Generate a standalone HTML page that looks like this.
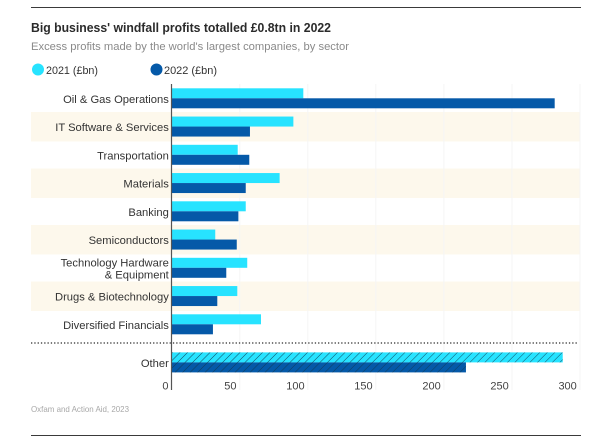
<!DOCTYPE html>
<html lang="en">
<head>
<meta charset="utf-8">
<title>Big business' windfall profits</title>
<style>
html,body{margin:0;padding:0;background:#fff;}
body{width:602px;height:436px;overflow:hidden;}
svg{display:block;font-family:"Liberation Sans",sans-serif;}
</style>
</head>
<body>
<svg id="chart" width="602" height="436" viewBox="0 0 602 436" xmlns="http://www.w3.org/2000/svg">
  <defs>
    <pattern id="hatch" patternUnits="userSpaceOnUse" width="5.3" height="5.3" patternTransform="rotate(45)">
      <line x1="0" y1="0" x2="0" y2="5.3" stroke="#123a52" stroke-width="0.9"/>
    </pattern>
  </defs>
  <rect x="0" y="0" width="602" height="436" fill="#fff"/>
  <line x1="31" y1="7.5" x2="581" y2="7.5" stroke="#3a3a3a" stroke-width="1"/>
  <text x="31" y="32" font-size="13" font-weight="700" fill="#2b2b2b" textLength="300" lengthAdjust="spacingAndGlyphs">Big business' windfall profits totalled £0.8tn in 2022</text>
  <text x="31" y="50" font-size="11" fill="#8a8a8a" textLength="318" lengthAdjust="spacingAndGlyphs">Excess profits made by the world's largest companies, by sector</text>
  <circle cx="38" cy="69.5" r="6" fill="#27e3ff"/>
  <text x="46" y="74" font-size="11" fill="#333" textLength="52" lengthAdjust="spacingAndGlyphs">2021 (£bn)</text>
  <circle cx="156.5" cy="69.5" r="6" fill="#0559a8"/>
  <text x="164" y="74" font-size="11" fill="#333" textLength="53" lengthAdjust="spacingAndGlyphs">2022 (£bn)</text>
  <g id="bands"></g>
  <g id="grid"></g>
  <g id="bars"></g>
  <g id="labels"></g>
  <g id="ticks"></g>
  <line x1="31" y1="343" x2="578" y2="343" stroke="#2b2b2b" stroke-width="1.3" stroke-dasharray="1.3 2"/>
  <line x1="171.5" y1="84" x2="171.5" y2="390" stroke="#555" stroke-width="1.2"/>
  <text x="31" y="412" font-size="8.5" fill="#a8a8a8" textLength="98" lengthAdjust="spacingAndGlyphs">Oxfam and Action Aid, 2023</text>
  <line x1="31" y1="435.5" x2="581" y2="435.5" stroke="#3a3a3a" stroke-width="1"/>
</svg>
<script>
var categories = ["Oil & Gas Operations","IT Software & Services","Transportation","Materials","Banking","Semiconductors","Technology Hardware\n& Equipment","Drugs & Biotechnology","Diversified Financials"];
var values2021 = [96.7,89.4,48.5,79.3,54.4,32,55.5,48.2,65.6];
var values2022 = [281.4,57.5,57,54.4,49,47.8,40.1,33.5,30.3];
var otherLabel = "Other";
var other2021 = 287.3;
var other2022 = 216.2;
var tickValues = [0,50,100,150,200,250,300];

var SVGNS = "http://www.w3.org/2000/svg";
function xScale(v){ return 171.7 + v * 1.361; }
function rowTop(i){ return 88.3 + i * 28.25; }
function make(tag, parentId, props){
  var el = document.createElementNS(SVGNS, tag);
  for (var k in props) el.setAttribute(k, props[k]);
  document.getElementById(parentId).appendChild(el);
  return el;
}
function drawBar(name, value, y, fill, hatched){
  var el = make("rect", "bars", {x: xScale(0), y: y, width: xScale(value) - xScale(0), height: 10, fill: fill});
  
  
  if (hatched) {
    var h = make("rect", "bars", {x: xScale(0), y: y, width: xScale(value) - xScale(0), height: 10, fill: "url(#hatch)"});
    
    
  }
}
function drawLabel(text, y){
  var lines = text.split("\n");
  var start = lines.length > 1 ? y - 6 : y;
  lines.forEach(function(line, j){
    var t = make("text", "labels", {x: 168.8, y: start + j * 12 + 4.5, "text-anchor": "end", "font-size": 11.2, fill: "#333"});
    
    
    t.textContent = line;
  });
}
categories.forEach(function(cat, i){
  var top = rowTop(i);
  if (i % 2 === 1) {
    var band = make("rect", "bands", {x: 31, y: top - 4.5, width: 549, height: 29.4, fill: "#fdf8ec"});
    
    
  }
  drawBar("bar-2021", values2021[i], top, "#27e3ff", false);
  drawBar("bar-2022", values2022[i], top + 10, "#0559a8", false);
  drawLabel(cat, top + 10);
});
drawBar("bar-other-2021", other2021, 352.4, "#27e3ff", true);
drawBar("bar-other-2022", other2022, 362.4, "#0559a8", true);
drawLabel(otherLabel, 362.4);
tickValues.forEach(function(v){
  if (v > 0) {
    var g = make("line", "grid", {x1: xScale(v), x2: xScale(v), y1: 84, y2: 390, stroke: "#f5f5f5", "stroke-width": 1});
    
    
  }
  var t = make("text", "ticks", {x: xScale(v) - 3.2, y: 389.5, "text-anchor": "end", "font-size": 11, fill: "#444"});
  
  
  t.textContent = String(v);
});
</script>
</body>
</html>
